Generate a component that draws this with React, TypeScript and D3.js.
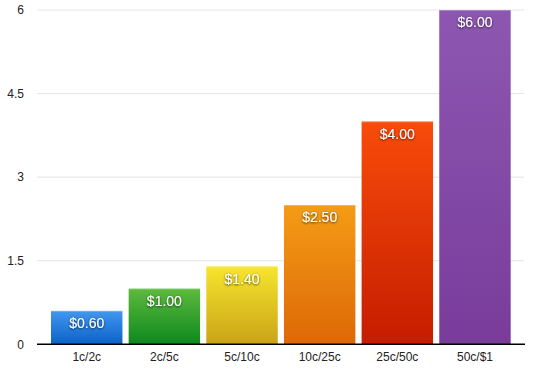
import React from "react";
import * as d3 from "d3";

const categories = ["1c/2c", "2c/5c", "5c/10c", "10c/25c", "25c/50c", "50c/$1"];
const values = [0.6, 1.0, 1.4, 2.5, 4.0, 6.0];
const valueLabels = ["$0.60", "$1.00", "$1.40", "$2.50", "$4.00", "$6.00"];
const yTicks = [0, 1.5, 3, 4.5, 6];
const yTickLabels = ["0", "1.5", "3", "4.5", "6"];
const colorsTop = ["#4297ee", "#5dba3e", "#f7e52e", "#f49c16", "#f84c0a", "#8d57b1"];
const colorsBottom = ["#0a62c8", "#0d881d", "#c9a317", "#dd6806", "#c61c00", "#793c9b"];

export default function App() {
  const W = 554, H = 375;
  const plotLeft = 37, plotRight = 525;
  const y = d3.scaleLinear().domain([0, 6]).range([344.3, 10]);
  const x = d3.scaleBand<string>().domain(categories).range([47.9, 513.8]).paddingInner(0.08).paddingOuter(0.04);
  const font = "'Liberation Sans', Arial, Helvetica, sans-serif";
  return (
    <svg width={W} height={H} style={{ position: "absolute", left: 0, top: 0 }}>
      <defs>
        {categories.map((c, i) => (
          <linearGradient key={c} id={`g${i}`} x1="0" y1="0" x2="0" y2="1">
            <stop offset="0%" stopColor={colorsTop[i]} />
            <stop offset="100%" stopColor={colorsBottom[i]} />
          </linearGradient>
        ))}
        <filter id="ts" x="-20%" y="-40%" width="140%" height="180%">
          <feDropShadow dx="0" dy="0.8" stdDeviation="0.9" floodColor="#000" floodOpacity="0.75" />
        </filter>
      </defs>
      {yTicks.map((t, i) => (
        <g key={t}>
          {t !== 0 && (
            <line x1={plotLeft} x2={plotRight - 1} y1={y(t)} y2={y(t)} stroke="#e4e4e4" strokeWidth={1} />
          )}
          <text x={24} y={y(t)} dy="0.35em" textAnchor="end" fontFamily={font} fontSize={12} fill="#222">
            {yTickLabels[i]}
          </text>
        </g>
      ))}
      {categories.map((c, i) => {
        const bx = x(c)!;
        const bw = x.bandwidth();
        const top = y(values[i]);
        return (
          <g key={c}>
            <rect x={bx} y={top} width={bw} height={y(0) - top} fill={`url(#g${i})`} />
            <line x1={bx} x2={bx + bw} y1={top + 0.5} y2={top + 0.5} stroke="#ffffff" strokeOpacity={0.25} />
            <text x={bx + bw / 2} y={top + 12.5} dy="0.35em" textAnchor="middle" fontFamily={font} fontSize={14} fill="#fff" filter="url(#ts)">
              {valueLabels[i]}
            </text>
            <text x={bx + bw / 2} y={357} dy="0.35em" textAnchor="middle" fontFamily={font} fontSize={12} fill="#222">
              {c}
            </text>
          </g>
        );
      })}
      <line x1={plotLeft} x2={plotRight} y1={y(0)} y2={y(0)} stroke="#000" strokeWidth={1.5} />
    </svg>
  );
}
